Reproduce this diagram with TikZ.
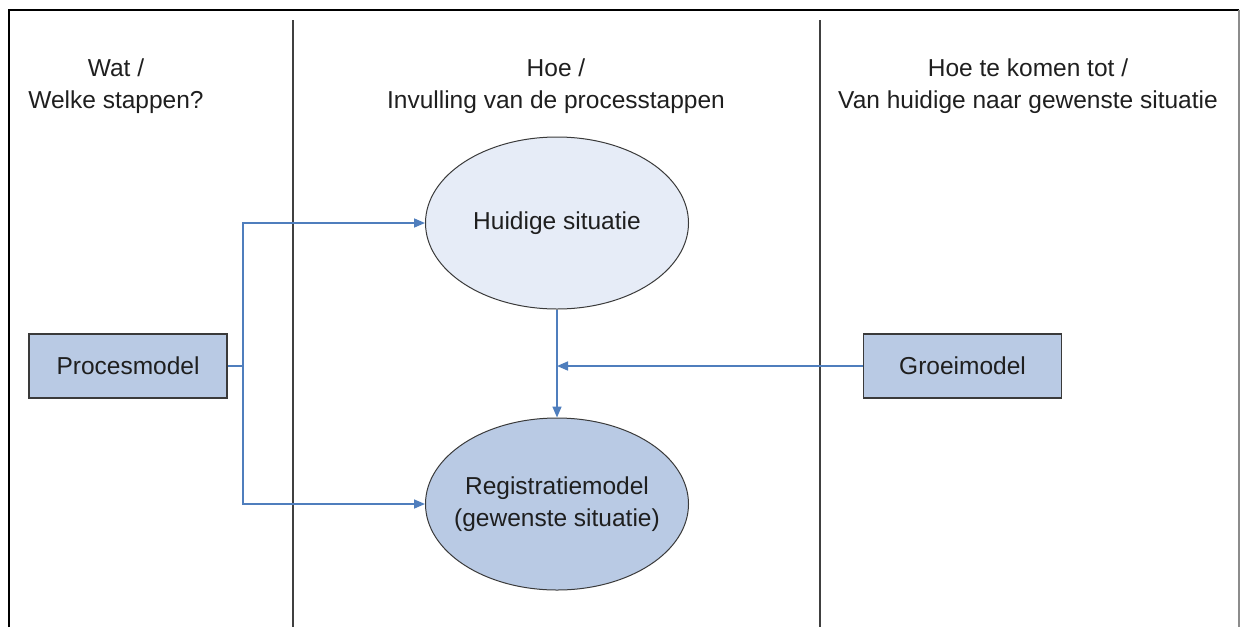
\documentclass[tikz,border=0pt]{standalone}
\usepackage{fontspec}
\setmainfont{Liberation Sans}
\usetikzlibrary{arrows.meta,shapes.geometric}
\definecolor{boxfill}{HTML}{B9CAE4}
\definecolor{lightfill}{HTML}{E6ECF7}
\definecolor{linkblue}{HTML}{4F7EBD}
\definecolor{edge}{HTML}{3A3A3A}
\begin{document}
\begin{tikzpicture}[x=1pt,y=-1pt,
  txt/.style={font=\fontsize{24.5}{31.5}\selectfont, text=black!88},
  header/.style={txt, align=center, inner sep=0pt},
  procbox/.style={txt, draw=edge, line width=1.6pt, fill=boxfill, minimum width=198pt, minimum height=64pt, inner sep=0pt},
  oval/.style={txt, ellipse, draw=edge, line width=1pt, minimum width=263pt, minimum height=172pt, inner sep=0pt, inner xsep=-14pt, align=center},
  conn/.style={draw=linkblue, line width=1.6pt},
  arr/.style={conn, -{Triangle[length=11pt,width=9pt]}},
  divider/.style={draw=black!75, line width=1.4pt}]
\useasboundingbox (0,0) rectangle (1241,627);
% frame
\draw[line width=2pt, black] (8.5,627) -- (8.5,9.5) -- (1239,9.5);
\draw[line width=1.5pt, black!45] (1239,9.5) -- (1239,627);
\draw[divider] (293,20) -- (293,627);
\draw[divider] (820,20) -- (820,627);
% headers
\node[header] (h1) at (116,86) {Wat /\\Welke stappen?};
\node[header] (h2) at (556,86) {Hoe /\\Invulling van de processtappen};
\node[header] (h3) at (1028,86) {Hoe te komen tot /\\Van huidige naar gewenste situatie};
% nodes
\node[procbox] (proc) at (128,366) {Procesmodel};
\node[procbox] (groei) at (962.5,366) {Groeimodel};
\node[oval, fill=lightfill] (huid) at (557,223) {Huidige situatie};
\node[oval, fill=boxfill] (reg) at (557,504) {Registratiemodel\\(gewenste situatie)};
% connectors
\coordinate (branch) at (243,366);
\coordinate (join) at (huid.south |- groei.west);
\draw[conn] (proc.east) -- (branch);
\draw[arr] (branch) |- (huid.west);
\draw[arr] (branch) |- (reg.west);
\draw[arr] (huid.south) -- (reg.north);
\draw[arr] (groei.west) -- (join);
\end{tikzpicture}
\end{document}
